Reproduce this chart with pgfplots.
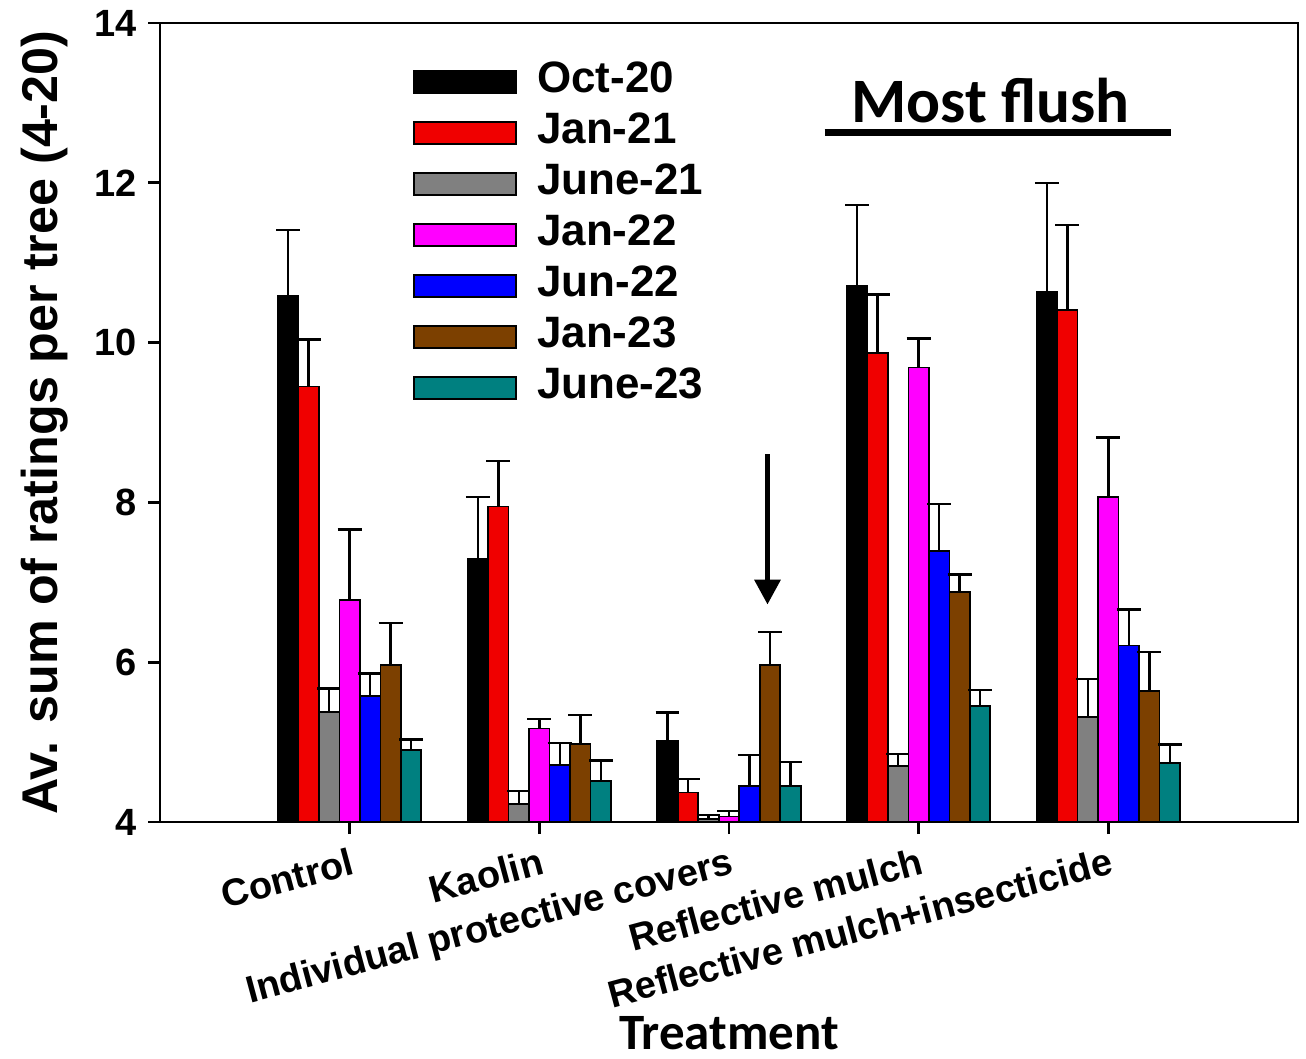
\documentclass[border=0pt]{standalone}
\usepackage{fontspec}
\setmainfont{Liberation Sans}
\newfontfamily\calibri{Carlito}
\usepackage{pgfplots}
\pgfplotsset{compat=1.18}
\usetikzlibrary{arrows.meta}
\definecolor{cred}{RGB}{240,0,0}
\definecolor{cgray}{RGB}{128,128,128}
\definecolor{cmag}{RGB}{255,0,255}
\definecolor{cblue}{RGB}{0,0,255}
\definecolor{cbrown}{RGB}{124,64,0}
\definecolor{cteal}{RGB}{0,128,128}
\begin{document}
\begin{tikzpicture}
\begin{axis}[
  name=ax,
  scale only axis, width=11.38cm, height=7.99cm,
  xmin=-1, xmax=5, ymin=4, ymax=14,
  ytick={4,6,8,10,12,14},
  xtick={0,1,2,3,4},
  xticklabels={Control,Kaolin,Individual protective covers,Reflective mulch,Reflective mulch+insecticide},
  /pgf/number format/assume math mode=true,
  ticklabel style={font=\bfseries\fontsize{10.8}{13}\selectfont},
  xticklabel style={rotate=15, anchor=north east, inner sep=1pt, yshift=-0.08cm},
  yticklabel style={inner sep=2pt, xshift=-0.04cm},
  tick align=outside, major tick length=0.12cm,
  xtick pos=bottom, ytick pos=left,
  axis line style={line width=0.8pt},
  major tick style={line width=0.8pt, black},
  ybar=0pt, bar width=0.108,
  legend image code/.code={\draw[#1, line width=0.6pt] (0cm,-0.11cm) rectangle (1.02cm,0.11cm); \path (1.22cm,0cm);},
  legend style={at={(axis description cs:0.222,0.955)}, anchor=north west, draw=none, fill=none,
    font=\bfseries\fontsize{12.5}{14}\selectfont, row sep=0.07cm, inner sep=0pt,
    nodes={inner sep=0pt, text height=0.33cm, text depth=0.11cm}},
  legend cell align=left,
  error bars/y dir=plus, error bars/y explicit,
  error bars/error bar style={line width=0.7pt, black},
  error bars/error mark options={rotate=90, mark size=3.4pt, line width=0.7pt, black},
  xlabel={\calibri\bfseries\fontsize{14.5}{16}\selectfont Treatment},
  xlabel style={at={(axis description cs:0.5,-0.285)}, anchor=base},
  ylabel={\bfseries\fontsize{14.3}{16}\selectfont Av. sum of ratings per tree (4-20)},
  ylabel style={at={(axis description cs:-0.101,0.5)}, anchor=center},
]
\addplot[draw=black, line width=0.5pt, fill=black, bar shift=-0.324] coordinates {
 (0,10.58) +- (0,0.83)
 (1,7.29) +- (0,0.78)
 (2,5.02) +- (0,0.35)
 (3,10.71) +- (0,1.01)
 (4,10.63) +- (0,1.37)};
\addplot[draw=black, line width=0.5pt, fill=cred, bar shift=-0.216] coordinates {
 (0,9.45) +- (0,0.59)
 (1,7.95) +- (0,0.57)
 (2,4.37) +- (0,0.17)
 (3,9.87) +- (0,0.73)
 (4,10.41) +- (0,1.06)};
\addplot[draw=black, line width=0.5pt, fill=cgray, bar shift=-0.108] coordinates {
 (0,5.38) +- (0,0.29)
 (1,4.23) +- (0,0.16)
 (2,4.04) +- (0,0.05)
 (3,4.70) +- (0,0.15)
 (4,5.31) +- (0,0.48)};
\addplot[draw=black, line width=0.5pt, fill=cmag, bar shift=0] coordinates {
 (0,6.78) +- (0,0.88)
 (1,5.17) +- (0,0.12)
 (2,4.07) +- (0,0.07)
 (3,9.69) +- (0,0.36)
 (4,8.07) +- (0,0.74)};
\addplot[draw=black, line width=0.5pt, fill=cblue, bar shift=0.108] coordinates {
 (0,5.58) +- (0,0.28)
 (1,4.71) +- (0,0.28)
 (2,4.45) +- (0,0.39)
 (3,7.39) +- (0,0.59)
 (4,6.21) +- (0,0.45)};
\addplot[draw=black, line width=0.5pt, fill=cbrown, bar shift=0.216] coordinates {
 (0,5.97) +- (0,0.52)
 (1,4.98) +- (0,0.36)
 (2,5.97) +- (0,0.41)
 (3,6.88) +- (0,0.22)
 (4,5.64) +- (0,0.49)};
\addplot[draw=black, line width=0.5pt, fill=cteal, bar shift=0.324] coordinates {
 (0,4.90) +- (0,0.13)
 (1,4.51) +- (0,0.26)
 (2,4.45) +- (0,0.30)
 (3,5.45) +- (0,0.20)
 (4,4.74) +- (0,0.23)};
\legend{Oct-20,Jan-21,June-21,Jan-22,Jun-22,Jan-23,June-23}
\node[anchor=base, font=\calibri\bfseries\fontsize{18}{20}\selectfont, inner sep=0pt] at (axis cs:3.379,12.75) {Most flush};
\draw[line width=2pt] (axis cs:2.504,12.625) -- (axis cs:4.333,12.625);
\draw[line width=1.7pt, -{Triangle[width=0.25cm,length=0.25cm]}] (axis cs:2.203,8.6) -- (axis cs:2.203,6.72);
\end{axis}
\pgfresetboundingbox
\path (ax.south west) ++(-1.60cm,-2.36cm) coordinate (bl);
\path (ax.north east) ++(0.08cm,0.23cm) coordinate (tr);
\path[use as bounding box] (bl) rectangle (tr);
\end{tikzpicture}
\end{document}
